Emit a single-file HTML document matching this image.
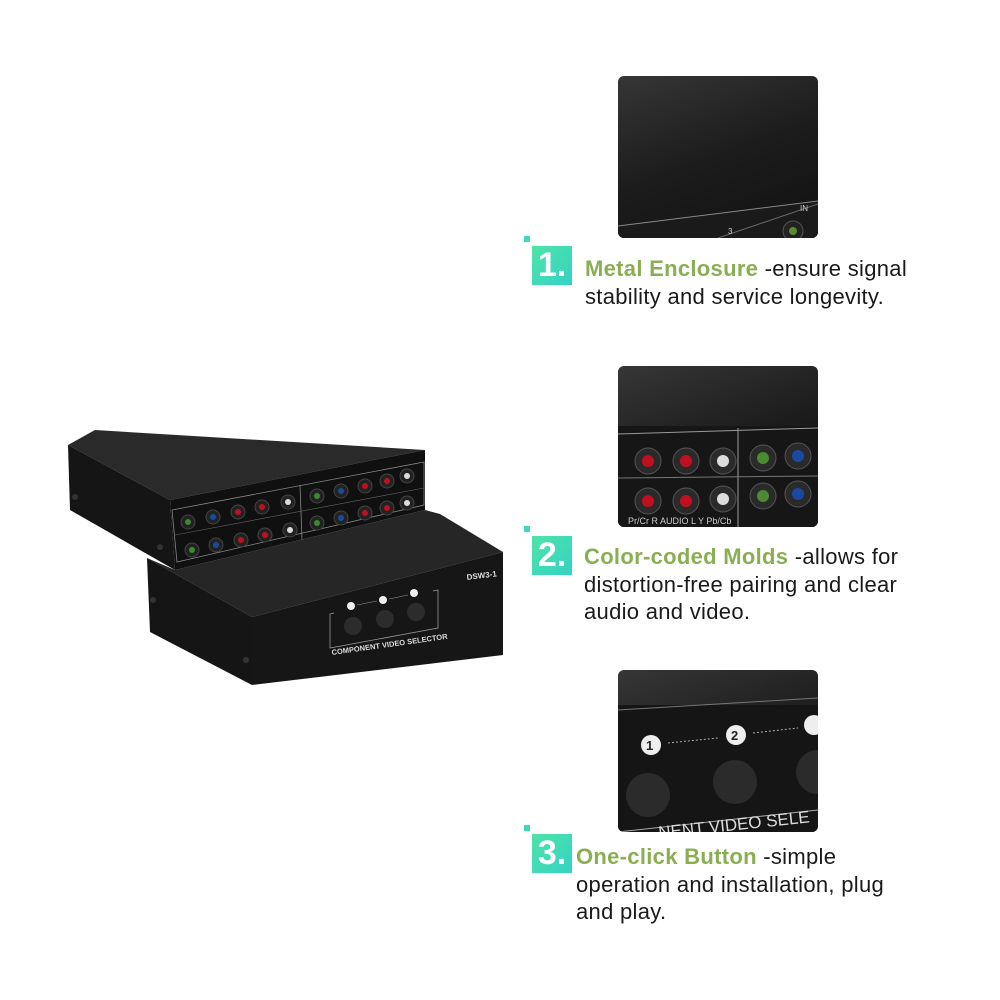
<!DOCTYPE html>
<html><head><meta charset="utf-8"><style>
body{margin:0;width:1000px;height:1000px;background:#fff;position:relative;overflow:hidden;font-family:"Liberation Sans",sans-serif}
.thumb{position:absolute;left:618px;width:200px;border-radius:6px;background:linear-gradient(160deg,#363636,#1c1c1c 50%,#111);overflow:hidden}
.badge{position:absolute;left:532px;width:40px;height:39px;background:linear-gradient(135deg,#4fe3a8,#33d3c4);color:#fff;font-weight:bold;font-size:34px;line-height:39px;text-align:center}
.dot{position:absolute;left:524px;width:6px;height:6px;background:#3fd9b8}
.txt{position:absolute;font-size:22px;line-height:27.5px;color:#1a1a1a;letter-spacing:0.3px}
.txt b{color:#8aae52}
</style></head><body>
<div class="thumb" style="top:76px;height:162px">
<svg width="200" height="162"><polygon points="0,162 0,150 200,125 200,162" fill="#1a1a1a"/><line x1="0" y1="150" x2="200" y2="125" stroke="#888" stroke-width="1"/><line x1="100" y1="162" x2="200" y2="128" stroke="#666"/><circle cx="175" cy="155" r="10" fill="#222" stroke="#555"/><circle cx="175" cy="155" r="4" fill="#5a8a30"/><text x="110" y="158" fill="#ccc" font-size="8">3</text><text x="182" y="135" fill="#ccc" font-size="8">IN</text></svg></div>
<div class="thumb" style="top:366px;height:161px">
<svg width="200" height="161"><rect x="0" y="60" width="200" height="101" fill="#161616"/><line x1="0" y1="68" x2="200" y2="62" stroke="#999"/><line x1="120" y1="62" x2="120" y2="161" stroke="#999"/><line x1="0" y1="112" x2="200" y2="110" stroke="#777"/>
<g fill="#2a2a2a" stroke="#555"><circle cx="30" cy="95" r="13"/><circle cx="68" cy="95" r="13"/><circle cx="105" cy="95" r="13"/><circle cx="145" cy="92" r="13"/><circle cx="180" cy="90" r="13"/><circle cx="30" cy="135" r="13"/><circle cx="68" cy="135" r="13"/><circle cx="105" cy="133" r="13"/><circle cx="145" cy="130" r="13"/><circle cx="180" cy="128" r="13"/></g>
<circle cx="30" cy="95" r="6" fill="#c01020"/><circle cx="68" cy="95" r="6" fill="#c01020"/><circle cx="105" cy="95" r="6" fill="#ddd"/><circle cx="145" cy="92" r="6" fill="#4a8a30"/><circle cx="180" cy="90" r="6" fill="#1a4aa0"/><circle cx="30" cy="135" r="6" fill="#c01020"/><circle cx="68" cy="135" r="6" fill="#c01020"/><circle cx="105" cy="133" r="6" fill="#ddd"/><circle cx="145" cy="130" r="6" fill="#4a8a30"/><circle cx="180" cy="128" r="6" fill="#1a4aa0"/>
<text x="10" y="158" fill="#ccc" font-size="9">Pr/Cr   R AUDIO L    Y   Pb/Cb</text></svg></div>
<div class="thumb" style="top:670px;height:162px">
<svg width="200" height="162"><rect x="0" y="35" width="200" height="127" fill="#151515"/><line x1="0" y1="40" x2="200" y2="28" stroke="#777"/>
<circle cx="33" cy="75" r="10" fill="#eee"/><text x="28" y="80" font-size="13" font-weight="bold" fill="#222">1</text><circle cx="118" cy="65" r="10" fill="#eee"/><text x="113" y="70" font-size="13" font-weight="bold" fill="#222">2</text><circle cx="196" cy="55" r="10" fill="#eee"/>
<line x1="50" y1="73" x2="100" y2="68" stroke="#aaa" stroke-dasharray="2,2"/><line x1="135" y1="63" x2="180" y2="58" stroke="#aaa" stroke-dasharray="2,2"/>
<circle cx="30" cy="125" r="22" fill="#2b2b2b"/><circle cx="117" cy="112" r="22" fill="#2b2b2b"/><circle cx="200" cy="102" r="22" fill="#2b2b2b"/>
<line x1="0" y1="162" x2="200" y2="140" stroke="#aaa"/><text x="40" y="162" fill="#ddd" font-size="17" transform="rotate(-6 100 155)">NENT VIDEO SELE</text></svg></div>

<div class="dot" style="top:236px"></div><div class="badge" style="top:246px">1.</div>
<div class="txt" style="left:585px;top:255px"><b>Metal Enclosure</b> -ensure signal<br>stability and service longevity.</div>
<div class="dot" style="top:526px"></div><div class="badge" style="top:536px">2.</div>
<div class="txt" style="left:584px;top:543px"><b>Color-coded Molds</b> -allows for<br>distortion-free pairing and clear<br>audio and video.</div>
<div class="dot" style="top:825px"></div><div class="badge" style="top:834px">3.</div>
<div class="txt" style="left:576px;top:843px"><b>One-click Button</b> -simple<br>operation and installation, plug<br>and play.</div>

<svg style="position:absolute;left:0;top:0" width="520" height="720">
<!-- back box -->
<polygon points="68,445 95,430 425,450 170,500" fill="#2a2a2a"/>
<polygon points="68,445 170,500 175,570 70,510" fill="#151515"/>
<polygon points="170,500 425,450 425,510 175,570" fill="#101010"/>
<polyline points="172,510 424,462 424,505 177,562 172,510" fill="none" stroke="#888" stroke-width="0.8"/>
<line x1="300" y1="485" x2="302" y2="540" stroke="#888" stroke-width="0.8"/>
<line x1="175" y1="535" x2="424" y2="488" stroke="#666" stroke-width="0.6"/>
<g stroke="#444" fill="#222">
<circle cx="188" cy="522" r="7"/><circle cx="213" cy="517" r="7"/><circle cx="238" cy="512" r="7"/><circle cx="262" cy="507" r="7"/><circle cx="288" cy="502" r="7"/>
<circle cx="192" cy="550" r="7"/><circle cx="216" cy="545" r="7"/><circle cx="241" cy="540" r="7"/><circle cx="265" cy="535" r="7"/><circle cx="290" cy="530" r="7"/>
<circle cx="317" cy="496" r="7"/><circle cx="341" cy="491" r="7"/><circle cx="365" cy="486" r="7"/><circle cx="387" cy="481" r="7"/><circle cx="407" cy="476" r="7"/>
<circle cx="317" cy="523" r="7"/><circle cx="341" cy="518" r="7"/><circle cx="365" cy="513" r="7"/><circle cx="387" cy="508" r="7"/><circle cx="407" cy="503" r="7"/></g>
<g stroke="none"><circle cx="188" cy="522" r="3" fill="#3a8a30"/><circle cx="213" cy="517" r="3" fill="#1a4aa0"/><circle cx="238" cy="512" r="3" fill="#c01020"/><circle cx="262" cy="507" r="3" fill="#c01020"/><circle cx="288" cy="502" r="3" fill="#ddd"/>
<circle cx="192" cy="550" r="3" fill="#3a8a30"/><circle cx="216" cy="545" r="3" fill="#1a4aa0"/><circle cx="241" cy="540" r="3" fill="#c01020"/><circle cx="265" cy="535" r="3" fill="#c01020"/><circle cx="290" cy="530" r="3" fill="#ddd"/>
<circle cx="317" cy="496" r="3" fill="#3a8a30"/><circle cx="341" cy="491" r="3" fill="#1a4aa0"/><circle cx="365" cy="486" r="3" fill="#c01020"/><circle cx="387" cy="481" r="3" fill="#c01020"/><circle cx="407" cy="476" r="3" fill="#ddd"/>
<circle cx="317" cy="523" r="3" fill="#3a8a30"/><circle cx="341" cy="518" r="3" fill="#1a4aa0"/><circle cx="365" cy="513" r="3" fill="#c01020"/><circle cx="387" cy="508" r="3" fill="#c01020"/><circle cx="407" cy="503" r="3" fill="#ddd"/></g>
<circle cx="75" cy="497" r="3" fill="#333"/><circle cx="160" cy="547" r="3" fill="#333"/>
<!-- front box -->
<polygon points="147,558 175,570 425,510 440,514 503,552 252,617" fill="#262626"/>
<polygon points="147,558 252,617 252,685 150,632" fill="#151515"/>
<polygon points="252,617 503,552 503,655 252,685" fill="#161616"/>
<text x="467" y="580" fill="#ddd" font-size="8" font-weight="bold" transform="rotate(-7 467 580)">DSW3-1</text>
<polyline points="334,613 330,614 330,648 438,628 438,590 433,591" fill="none" stroke="#999" stroke-width="0.8"/>
<circle cx="351" cy="606" r="4" fill="#eee"/><circle cx="383" cy="600" r="4" fill="#eee"/><circle cx="414" cy="593" r="4" fill="#eee"/>
<line x1="357" y1="605" x2="377" y2="601" stroke="#999" stroke-width="0.6"/><line x1="389" y1="599" x2="408" y2="595" stroke="#999" stroke-width="0.6"/>
<circle cx="353" cy="626" r="9" fill="#2c2c2c"/><circle cx="385" cy="619" r="9" fill="#2c2c2c"/><circle cx="416" cy="612" r="9" fill="#2c2c2c"/>
<text x="332" y="655" fill="#ddd" font-size="7.5" font-weight="bold" transform="rotate(-8 332 655)">COMPONENT VIDEO SELECTOR</text>
<circle cx="246" cy="660" r="3" fill="#333"/><circle cx="153" cy="600" r="3" fill="#333"/>
</svg>
</body></html>
